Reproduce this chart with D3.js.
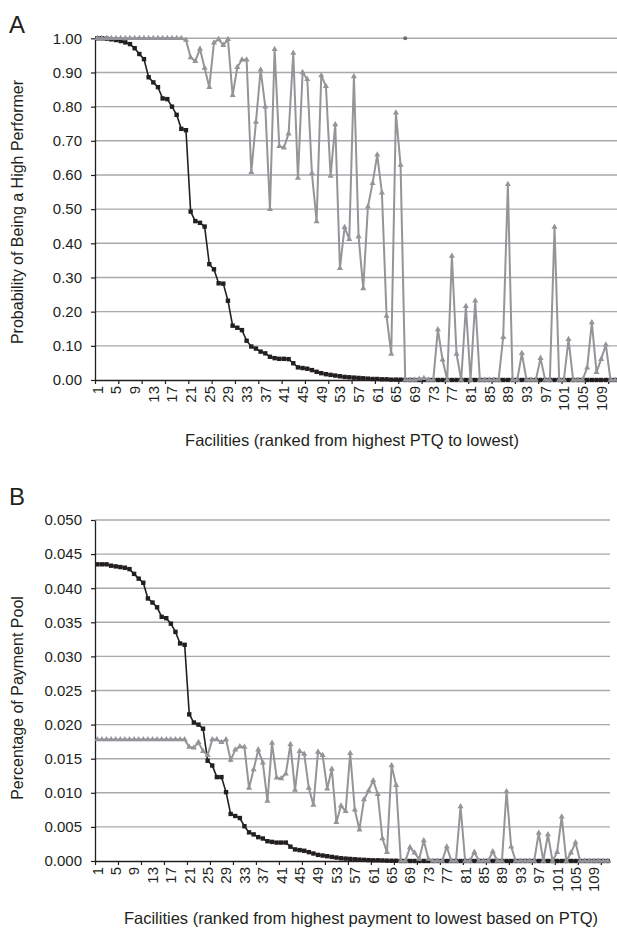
<!DOCTYPE html>
<html>
<head>
<meta charset="utf-8">
<script src="https://cdn.jsdelivr.net/npm/d3@7/dist/d3.min.js"></script>
<style>
  body { margin: 0; background: #fff; }
  text { font-family: "Liberation Sans", Arial, Helvetica, sans-serif; fill: #231f20; }
</style>
</head>
<body>
<svg id="chart" width="617" height="928"></svg>
<script>
// facilities 1..112, ranked
const facilities = d3.range(1, 113);
const labelFacilities = facilities.filter((d, i) => i % 4 === 0);

// Panel A - probability of being a high performer
const probBlack = [
  1.000, 1.000, 0.999, 0.997, 0.995, 0.992, 0.988, 0.983, 0.971, 0.954,
  0.939, 0.886, 0.871, 0.857, 0.824, 0.822, 0.800, 0.776, 0.735, 0.731,
  0.493, 0.465, 0.460, 0.449, 0.339, 0.324, 0.283, 0.282, 0.232, 0.159,
  0.153, 0.146, 0.115, 0.098, 0.092, 0.083, 0.078, 0.068, 0.064, 0.062,
  0.062, 0.061, 0.049, 0.037, 0.035, 0.033, 0.029, 0.024, 0.020, 0.017,
  0.015, 0.013, 0.011, 0.009, 0.008, 0.007, 0.006, 0.005, 0.004, 0.003,
  0.003, 0.002, 0.002, 0.001, 0.001, 0.001, 0, 0, 0, 0,
  0, 0, 0, 0, 0, 0, 0, 0, 0, 0,
  0, 0, 0, 0, 0, 0, 0, 0, 0, 0,
  0, 0, 0, 0, 0, 0, 0, 0, 0, 0,
  0, 0, 0, 0, 0, 0, 0, 0, 0, 0,
  0, 0
];
const probGray = [
  1.000, 1.000, 1.000, 1.000, 1.000, 1.000, 1.000, 1.000, 1.000, 1.000,
  1.000, 1.000, 1.000, 1.000, 1.000, 1.000, 1.000, 1.000, 1.000, 0.995,
  0.944, 0.933, 0.969, 0.913, 0.857, 0.987, 0.997, 0.980, 0.997, 0.833,
  0.915, 0.937, 0.937, 0.608, 0.755, 0.908, 0.800, 0.500, 0.968, 0.684,
  0.680, 0.721, 0.957, 0.591, 0.900, 0.880, 0.605, 0.464, 0.891, 0.860,
  0.597, 0.748, 0.327, 0.447, 0.412, 0.888, 0.420, 0.268, 0.507, 0.576,
  0.659, 0.548, 0.187, 0.076, 0.782, 0.629, 0, 0, 0, 0.003,
  0.005, 0, 0, 0.148, 0.059, 0, 0.363, 0.076, 0, 0.216,
  0, 0.232, 0, 0, 0, 0, 0, 0.125, 0.573, 0,
  0, 0.078, 0, 0, 0, 0.064, 0, 0, 0.448, 0,
  0, 0.119, 0, 0, 0, 0.036, 0.168, 0.023, 0.061, 0.103,
  0, 0
];
// lone marker sitting on the 1.00 line
const probExtra = [{ facility: 67, value: 1.0 }];

// Panel B - percentage of payment pool
const payBlack = [
  0.0435, 0.0435, 0.0435, 0.0433, 0.0432, 0.0431, 0.0430, 0.0428, 0.0421, 0.0414,
  0.0408, 0.0385, 0.0379, 0.0372, 0.0358, 0.0356, 0.0348, 0.0336, 0.0319, 0.0317,
  0.0215, 0.0203, 0.0200, 0.0194, 0.0147, 0.0140, 0.0123, 0.0123, 0.0101, 0.0069,
  0.0066, 0.0063, 0.0051, 0.0042, 0.0039, 0.0035, 0.0033, 0.0029, 0.0028, 0.0027,
  0.0027, 0.0027, 0.0021, 0.0017, 0.0016, 0.0015, 0.0013, 0.0011, 0.0009, 0.0008,
  0.0007, 0.0006, 0.0005, 0.0004, 0.00035, 0.0003, 0.00025, 0.0002, 0.00017, 0.00013,
  0.0001, 0.0001, 0.00008, 0.00005, 0.00004, 0.00003, 0, 0, 0, 0,
  0, 0, 0, 0, 0, 0, 0, 0, 0, 0,
  0, 0, 0, 0, 0, 0, 0, 0, 0, 0,
  0, 0, 0, 0, 0, 0, 0, 0, 0, 0,
  0, 0, 0, 0, 0, 0, 0, 0, 0, 0,
  0, 0
];
const payGray = [
  0.0178, 0.0178, 0.0178, 0.0178, 0.0178, 0.0178, 0.0178, 0.0178, 0.0178, 0.0178,
  0.0178, 0.0178, 0.0178, 0.0178, 0.0178, 0.0178, 0.0178, 0.0178, 0.0178, 0.0178,
  0.0167, 0.0166, 0.0174, 0.0161, 0.0155, 0.0178, 0.0178, 0.0174, 0.0178, 0.0148,
  0.0163, 0.0168, 0.0167, 0.0107, 0.0134, 0.0163, 0.0144, 0.0088, 0.0173, 0.0122,
  0.0121, 0.0128, 0.0171, 0.0104, 0.0161, 0.0157, 0.0107, 0.0082, 0.0160, 0.0155,
  0.0106, 0.0135, 0.0057, 0.0081, 0.0073, 0.0158, 0.0075, 0.0046, 0.0090, 0.0103,
  0.0118, 0.0098, 0.0033, 0.0013, 0.0140, 0.0111, 0, 0, 0.0020, 0.0012,
  0.0003, 0.0030, 0.0003, 0, 0, 0, 0.0021, 0, 0, 0.0080,
  0, 0, 0.0013, 0, 0, 0, 0.0014, 0, 0, 0.0102,
  0.0021, 0, 0, 0, 0, 0, 0.0041, 0, 0.0039, 0,
  0.0013, 0.0065, 0, 0.0012, 0.0027, 0, 0, 0, 0, 0,
  0, 0
];

const probTicks = [0, 0.1, 0.2, 0.3, 0.4, 0.5, 0.6, 0.7, 0.8, 0.9, 1.0];
const payTicks = [0, 0.005, 0.010, 0.015, 0.020, 0.025, 0.030, 0.035, 0.040, 0.045, 0.050];

const BLACK = "#231f20";
const GRAY = "#939598";
const GRID = "#a7a9ac";

const svg = d3.select("#chart");

function drawPanel(cfg) {
    const g = svg.append("g");

    // Excel style category axis: points sit between the tick marks
    const x = d3.scaleLinear()
        .domain([0.5, facilities.length + 0.5])
        .range([cfg.left, cfg.right]);
    const y = d3.scaleLinear()
        .domain([0, cfg.yMax])
        .range([cfg.bottom, cfg.top]);

    // horizontal gridlines
    g.append("g").selectAll("line")
        .data(cfg.yTicks.slice(1))
        .join("line")
            .attr("x1", cfg.left)
            .attr("x2", cfg.right)
            .attr("y1", d => y(d))
            .attr("y2", d => y(d))
            .attr("stroke", GRID)
            .attr("stroke-width", 1.4);

    // y axis
    const yAxis = g.append("g")
        .attr("transform", `translate(${cfg.left},0)`)
        .call(d3.axisLeft(y)
            .tickValues(cfg.yTicks)
            .tickFormat(d3.format(cfg.fmt))
            .tickSize(4)
            .tickSizeOuter(0)
            .tickPadding(9));
    yAxis.select(".domain").attr("stroke", BLACK).attr("stroke-width", 1.3);
    yAxis.selectAll(".tick line").attr("stroke", BLACK).attr("stroke-width", 1.2);
    yAxis.selectAll(".tick text")
        .style("font-size", "15px")
        .style("font-family", "'Liberation Sans', Arial, sans-serif")
        .attr("fill", BLACK);

    // x axis: tick marks every 5 categories, labels every 4
    const tickBounds = d3.range(0, 23).map(k => 0.5 + 5 * k);
    const xAxis = g.append("g")
        .attr("transform", `translate(0,${cfg.bottom})`)
        .call(d3.axisBottom(x)
            .tickValues(tickBounds)
            .tickFormat("")
            .tickSize(4)
            .tickSizeOuter(0));
    xAxis.select(".domain").attr("stroke", BLACK).attr("stroke-width", 1.3);
    xAxis.selectAll(".tick line").attr("stroke", BLACK).attr("stroke-width", 1.2);

    g.append("g").selectAll("text")
        .data(labelFacilities)
        .join("text")
            .attr("transform", d => `translate(${x(d)},${cfg.bottom + 6}) rotate(-90)`)
            .attr("text-anchor", "end")
            .attr("dy", "0.36em")
            .style("font-size", "15px")
            .text(d => d);

    // series
    const line = d3.line()
        .x((d, i) => x(facilities[i]))
        .y(d => y(d));

    g.append("path")
        .datum(cfg.black)
        .attr("fill", "none")
        .attr("stroke", BLACK)
        .attr("stroke-width", 1.6)
        .attr("d", line);
    g.append("g").selectAll("rect")
        .data(cfg.black)
        .join("rect")
            .attr("x", (d, i) => x(facilities[i]) - 2.2)
            .attr("y", d => y(d) - 2.2)
            .attr("width", 4.4)
            .attr("height", 4.4)
            .attr("fill", BLACK);

    g.append("path")
        .datum(cfg.gray)
        .attr("fill", "none")
        .attr("stroke", GRAY)
        .attr("stroke-width", 2)
        .attr("d", line);
    g.append("g").selectAll("path")
        .data(cfg.gray)
        .join("path")
            .attr("transform", (d, i) => `translate(${x(facilities[i])},${y(d)})`)
            .attr("d", d3.symbol(d3.symbolTriangle, 16))
            .attr("fill", GRAY);

    if (cfg.extra) {
        g.append("g").selectAll("circle")
            .data(cfg.extra)
            .join("circle")
                .attr("cx", d => x(d.facility))
                .attr("cy", d => y(d.value))
                .attr("r", 2)
                .attr("fill", "#6d6e71");
    }

    // titles
    g.append("text")
        .attr("x", cfg.letterX)
        .attr("y", cfg.letterY)
        .style("font-size", "24px")
        .text(cfg.letter);

    g.append("text")
        .attr("transform", `translate(${cfg.yTitleX},${cfg.yTitleY}) rotate(-90)`)
        .attr("text-anchor", "middle")
        .style("font-size", "16px")
        .text(cfg.yTitle);

    g.append("text")
        .attr("x", cfg.xTitleX)
        .attr("y", cfg.xTitleY)
        .attr("text-anchor", "middle")
        .style("font-size", "16.5px")
        .text(cfg.xTitle);
}

drawPanel({
    letter: "A", letterX: 9, letterY: 33,
    left: 95, right: 617.5, top: 38.3, bottom: 380,
    yMax: 1.0, yTicks: probTicks, fmt: ".2f",
    black: probBlack, gray: probGray, extra: probExtra,
    yTitle: "Probability of Being a High Performer", yTitleX: 23, yTitleY: 212,
    xTitle: "Facilities (ranked from highest PTQ to lowest)", xTitleX: 352, xTitleY: 446
});

drawPanel({
    letter: "B", letterX: 9, letterY: 505,
    left: 95, right: 610, top: 520, bottom: 861,
    yMax: 0.05, yTicks: payTicks, fmt: ".3f",
    black: payBlack, gray: payGray,
    yTitle: "Percentage of Payment Pool", yTitleX: 23, yTitleY: 698,
    xTitle: "Facilities (ranked from highest payment to lowest based on PTQ)", xTitleX: 361, xTitleY: 924
});
</script>
</body>
</html>
